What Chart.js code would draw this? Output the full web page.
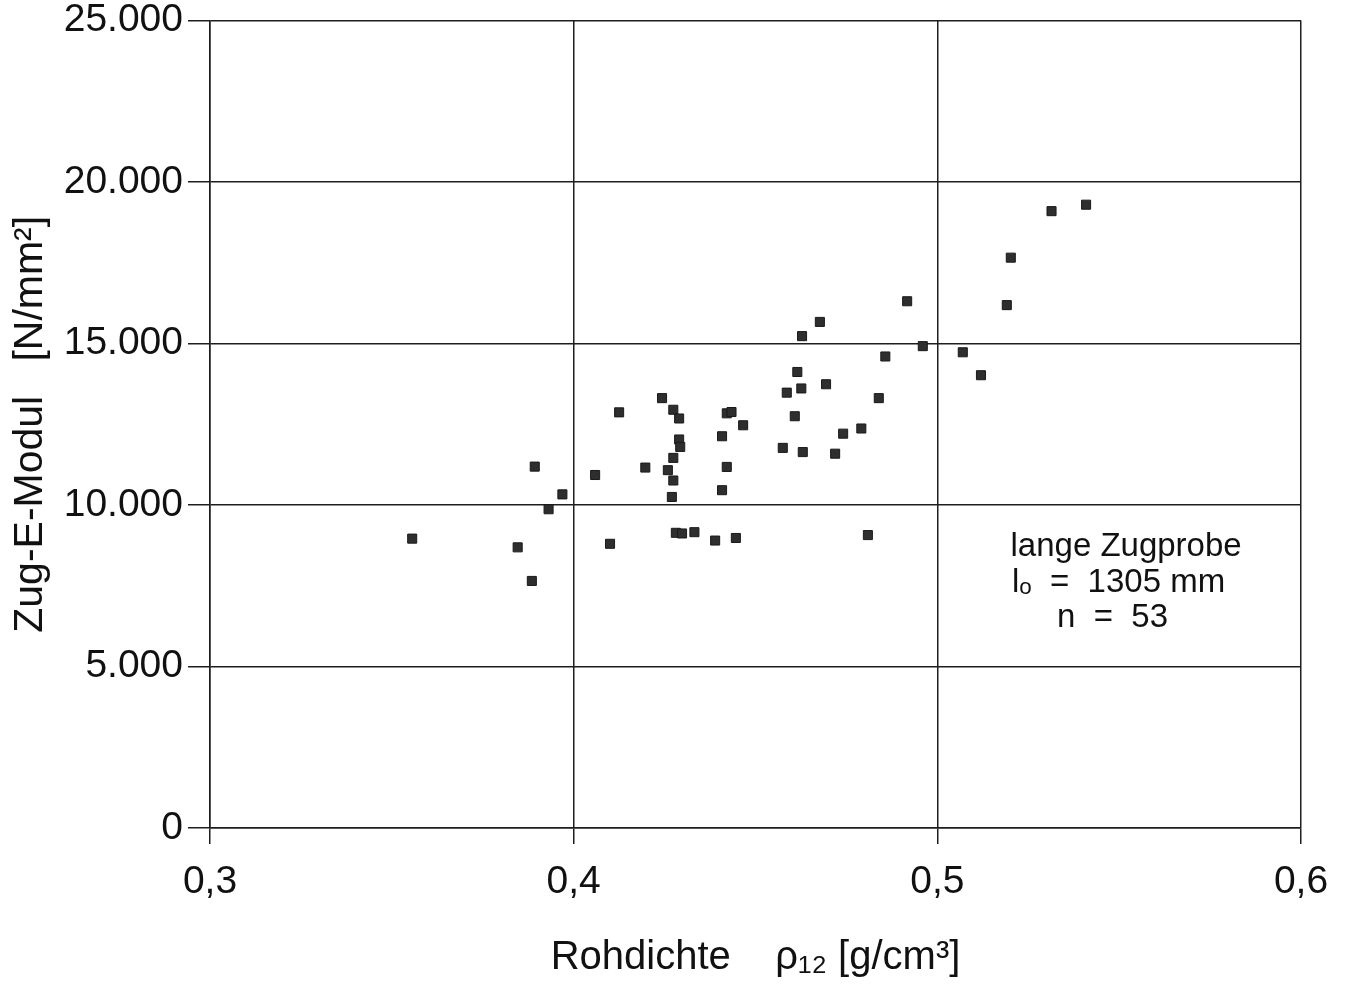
<!DOCTYPE html>
<html>
<head>
<meta charset="utf-8">
<script src="https://cdn.jsdelivr.net/npm/chart.js@4.4.1/dist/chart.umd.min.js"></script>
<style>
  html, body { margin: 0; padding: 0; background: #fff; }
  #wrap { width: 1346px; height: 993px; }
</style>
</head>
<body>
<div id="wrap"><canvas id="scatterChart" width="1346" height="993"></canvas></div>
<script>
// Rohdichte (g/cm3) of each sample
const densityValues = [
    0.3556, 0.3846, 0.3885, 0.3893, 0.3931, 0.3969, 0.4059, 0.4100, 0.4125, 0.4197,
    0.4243, 0.4259, 0.4274, 0.4274, 0.4274, 0.4270, 0.4290, 0.4290, 0.4293, 0.4281,
    0.4298, 0.4332, 0.4389, 0.4408, 0.4408, 0.4421, 0.4434, 0.4421, 0.4446, 0.4466,
    0.4809, 0.4575, 0.4630, 0.4719, 0.4741, 0.4791, 0.4608, 0.4586, 0.4626, 0.4615,
    0.4694, 0.4839, 0.4857, 0.4628, 0.4677, 0.4917, 0.4960, 0.5070, 0.5120, 0.5191,
    0.5202, 0.5314, 0.5409
];
// Zug-E-Modul (N/mm2) of each sample, same order
const modulusValues = [
    8960, 8690, 7650, 11190, 9870, 10330, 10930, 8800, 12870, 11160,
    13310, 11080, 12950, 11460, 10760, 10250, 12680, 12030, 11800, 9140,
    9120, 9160, 8900, 12130, 10460, 12840, 12880, 11180, 8980, 12470,
    9070, 11770, 11640, 11590, 12210, 12370, 12750, 13480, 13610, 14120,
    13740, 13310, 14600, 15230, 15670, 16310, 14920, 14730, 14020, 16190,
    17660, 19100, 19300
];
const noteLines = ['lange Zugprobe', 'l\u2092  =  1305 mm', 'n  =  53'];

const points = densityValues.map((x, i) => ({ x: x, y: modulusValues[i] }));

const fontFamily = '"Liberation Sans", Arial, Helvetica, sans-serif';
const gridColor = '#1e1e1e';

// draws the small note block inside the plot area
const notePlugin = {
    id: 'notePlugin',
    afterDraw(chart) {
        const ctx = chart.ctx;
        const xs = chart.scales.x;
        const ys = chart.scales.y;
        ctx.save();
        ctx.fillStyle = '#111';
        ctx.font = '33px ' + fontFamily;
        ctx.textBaseline = 'middle';
        ctx.textAlign = 'center';
        ctx.fillText(noteLines[0], xs.getPixelForValue(0.5519), ys.getPixelForValue(8700));
        ctx.textAlign = 'left';
        ctx.fillText(noteLines[1], xs.getPixelForValue(0.5205), ys.getPixelForValue(7600));
        ctx.fillText(noteLines[2], xs.getPixelForValue(0.5329), ys.getPixelForValue(6490));
        ctx.restore();
    }
};

const chartCtx = document.getElementById('scatterChart').getContext('2d');
new Chart(chartCtx, {
    type: 'scatter',
    data: {
        datasets: [{
            data: points,
            pointStyle: 'rect',
            pointRadius: 6.4,
            pointHoverRadius: 6.4,
            backgroundColor: '#2e2e2e',
            borderColor: '#1a1a1a',
            borderWidth: 1
        }]
    },
    options: {
        responsive: false,
        animation: false,
        layout: { padding: { top: 0, right: 45, bottom: 0, left: 0 } },
        plugins: {
            legend: { display: false },
            tooltip: { enabled: false }
        },
        scales: {
            x: {
                type: 'linear',
                min: 0.3,
                max: 0.6,
                afterFit: (axis) => { axis.height = 165; },
                ticks: {
                    stepSize: 0.1,
                    color: '#111',
                    padding: 15,
                    font: { family: fontFamily, size: 39 },
                    callback: (v) => v.toFixed(1).replace('.', ',')
                },
                grid: { color: gridColor, lineWidth: 1.5, tickLength: 16 },
                border: { color: gridColor, width: 1.5 },
                title: {
                    display: true,
                    text: 'Rohdichte    \u03C1\u2081\u2082 [g/cm\u00B3]',
                    color: '#111',
                    font: { family: fontFamily, size: 40 },
                    padding: { top: 0, bottom: 11 }
                }
            },
            y: {
                type: 'linear',
                min: 0,
                max: 25000,
                afterFit: (axis) => { axis.width = 210; },
                ticks: {
                    stepSize: 5000,
                    color: '#111',
                    padding: 5,
                    font: { family: fontFamily, size: 39, lineHeight: 0.8 },
                    callback: (v) => v === 0 ? '0' : String(v).replace(/\B(?=(\d{3})+(?!\d))/g, '.')
                },
                grid: { color: gridColor, lineWidth: 1.5, tickLength: 22 },
                border: { color: gridColor, width: 1.5 },
                title: {
                    display: true,
                    text: 'Zug-E-Modul   [N/mm\u00B2]',
                    color: '#111',
                    font: { family: fontFamily, size: 41 },
                    padding: { top: 6, bottom: 0 }
                }
            }
        }
    },
    plugins: [notePlugin]
});
</script>
</body>
</html>
